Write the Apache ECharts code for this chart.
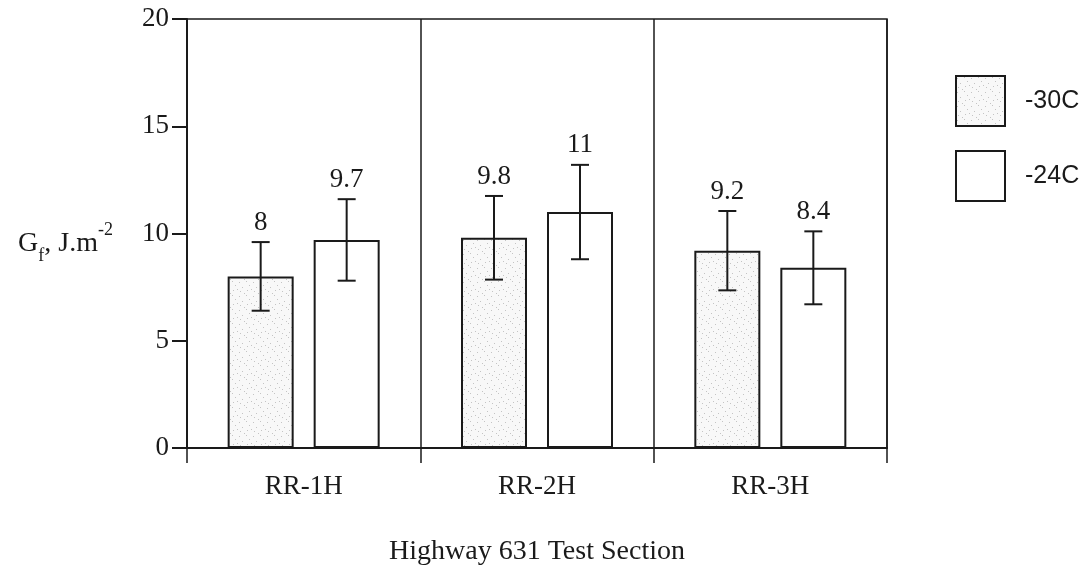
<!DOCTYPE html>
<html>
<head>
<meta charset="utf-8">
<script src="https://cdn.jsdelivr.net/npm/echarts@6/dist/echarts.min.js"></script>
<style>
  html, body { margin: 0; padding: 0; background: #fff; }
  #chart { width: 1089px; height: 571px; }
</style>
</head>
<body>
<div id="chart"></div>
<script>
// Fracture energy by test section and temperature
const categories = ['RR-1H', 'RR-2H', 'RR-3H'];
const seriesNames = ['-30C', '-24C'];
const valuesM30 = [8, 9.8, 9.2];
const valuesM24 = [9.7, 11, 8.4];
const errM30 = [1.6, 1.95, 1.85];
const errM24 = [1.9, 2.2, 1.7];

const SERIF = '"Liberation Serif", "Times New Roman", serif';
const INK = '#1a1a1a';
const BAR_W = 66;
const BAR_GAP = 20;

// light stippled fill for the -30C bars
function stipple() {
  const c = document.createElement('canvas');
  c.width = 14; c.height = 14;
  const g = c.getContext('2d');
  g.fillStyle = '#f8f8f8';
  g.fillRect(0, 0, 14, 14);
  g.fillStyle = '#c4c4c4';
  [[1, 2], [8, 1], [4, 7], [11, 5], [2, 11], [9, 10], [6, 13], [13, 9]].forEach(p => g.fillRect(p[0], p[1], 1, 1));
  return c;
}
const fillM30 = { image: stipple(), repeat: 'repeat' };

function errorSeries(name, values, errs, side) {
  const data = values.map((v, i) => [i, v, errs[i]]);
  return {
    type: 'custom',
    name: name + ' err',
    data: data,
    z: 5,
    silent: true,
    encode: { x: 0, y: 1 },
    renderItem: function (params, api) {
      const i = api.value(0);
      const v = api.value(1);
      const e = api.value(2);
      const off = side * (BAR_W + BAR_GAP) / 2;
      const top = api.coord([i, v + e]);
      const bot = api.coord([i, v - e]);
      const x = top[0] + off;
      const cap = 9;
      const ls = { stroke: INK, lineWidth: 2 };
      return {
        type: 'group',
        children: [
          { type: 'line', shape: { x1: x, y1: top[1], x2: x, y2: bot[1] }, style: ls },
          { type: 'line', shape: { x1: x - cap, y1: top[1], x2: x + cap, y2: top[1] }, style: ls },
          { type: 'line', shape: { x1: x - cap, y1: bot[1], x2: x + cap, y2: bot[1] }, style: ls },
          {
            type: 'text',
            style: {
              text: String(v), x: x, y: top[1] - 6,
              align: 'center', verticalAlign: 'bottom',
              font: '27px ' + SERIF, fill: INK
            }
          }
        ]
      };
    }
  };
}

const chart = echarts.init(document.getElementById('chart'), null, { renderer: 'canvas' });
chart.setOption({
  backgroundColor: '#fff',
  animation: false,
  grid: {
    left: 187, right: 202, top: 19, bottom: 114,
    show: true, borderColor: INK, borderWidth: 1.5, backgroundColor: 'transparent'
  },
  legend: {
    data: seriesNames,
    orient: 'vertical',
    left: 955, top: 75,
    padding: 0,
    itemWidth: 49, itemHeight: 50, itemGap: 23,
    icon: 'rect',
    textStyle: { fontFamily: '"Liberation Sans", Arial, sans-serif', fontSize: 25, color: INK, padding: [10, 0, 0, 15] },
    selectedMode: false
  },
  xAxis: {
    type: 'category',
    data: categories,
    axisLine: { lineStyle: { color: INK, width: 2 } },
    axisTick: { show: true, length: 15, lineStyle: { color: INK, width: 1.5 } },
    axisLabel: { margin: 25, fontFamily: SERIF, fontSize: 27, color: INK },
    splitLine: { show: true, lineStyle: { color: INK, width: 1.5 } },
    name: 'Highway 631 Test Section',
    nameLocation: 'middle',
    nameGap: 90,
    nameTextStyle: { fontFamily: SERIF, fontSize: 28, color: INK }
  },
  yAxis: {
    type: 'value',
    min: 0, max: 20, interval: 5,
    axisLine: { show: true, lineStyle: { color: INK, width: 2 } },
    axisTick: { show: true, length: 15, lineStyle: { color: INK, width: 2 } },
    axisLabel: { margin: 18, fontFamily: SERIF, fontSize: 27, color: INK },
    splitLine: { show: false },
    name: '{g|G}{sub|f}{g|, J.m}{sup|-2}',
    nameLocation: 'middle',
    nameRotate: 0,
    nameGap: 74,
    nameTextStyle: {
      align: 'right',
      padding: [20, 0, 0, 0],
      rich: {
        g: { fontFamily: SERIF, fontSize: 28, color: INK, lineHeight: 44, verticalAlign: 'middle' },
        sub: { fontFamily: SERIF, fontSize: 18, color: INK, lineHeight: 44, verticalAlign: 'bottom', padding: [16, 0, 0, 0] },
        sup: { fontFamily: SERIF, fontSize: 18, color: INK, lineHeight: 44, verticalAlign: 'top', padding: [0, 0, 14, 0] }
      }
    }
  },
  series: [
    {
      type: 'bar', name: seriesNames[0], data: valuesM30,
      barWidth: BAR_W, barGap: (BAR_GAP / BAR_W * 100) + '%',
      itemStyle: { color: fillM30, borderColor: INK, borderWidth: 2 }
    },
    {
      type: 'bar', name: seriesNames[1], data: valuesM24,
      barWidth: BAR_W,
      itemStyle: { color: '#ffffff', borderColor: INK, borderWidth: 2 }
    },
    errorSeries(seriesNames[0], valuesM30, errM30, -1),
    errorSeries(seriesNames[1], valuesM24, errM24, 1)
  ]
});
</script>
</body>
</html>
